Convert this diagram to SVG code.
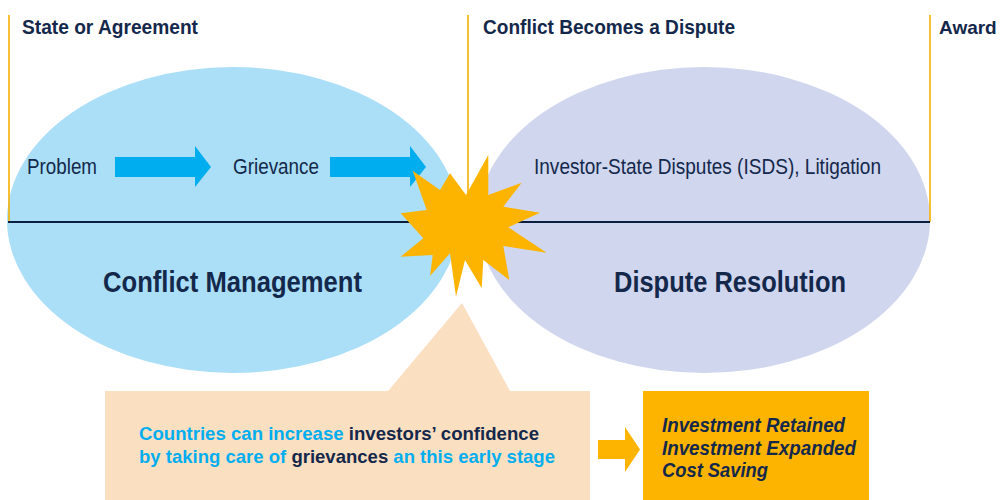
<svg xmlns="http://www.w3.org/2000/svg" width="1000" height="500" viewBox="0 0 1000 500">
  <style>
    .hdr { font-family: "Liberation Sans", Arial, sans-serif; font-weight: bold; font-size: 21px; fill: #14284b; }
    .step { font-family: "Liberation Sans", Arial, sans-serif; font-size: 22px; fill: #14284b; }
    .phase { font-family: "Liberation Sans", Arial, sans-serif; font-weight: bold; font-size: 29px; fill: #14284b; }
    .note { font-family: "Liberation Sans", Arial, sans-serif; font-weight: bold; font-size: 19px; fill: #00aeef; }
    .dark { fill: #14284b; }
    .out { font-family: "Liberation Sans", Arial, sans-serif; font-weight: bold; font-style: italic; font-size: 20px; fill: #14284b; }
    .divider { stroke: #f5b000; stroke-width: 1.6; fill: none; }
    .flow { fill: #00aeef; }
  </style>

  <!-- phase ellipses -->
  <g id="conflict-management">
    <ellipse cx="233" cy="220" rx="226" ry="153" fill="#aadff7"/>
    <text class="phase" x="103" y="292" textLength="259" lengthAdjust="spacingAndGlyphs">Conflict Management</text>
  </g>
  <g id="dispute-resolution">
    <ellipse cx="704" cy="220" rx="226" ry="153" fill="#cfd6ee"/>
    <text class="phase" x="614" y="292" textLength="232" lengthAdjust="spacingAndGlyphs">Dispute Resolution</text>
  </g>

  <!-- stage dividers and timeline -->
  <g id="timeline">
    <line class="divider" x1="9" y1="15" x2="9" y2="222"/>
    <line class="divider" x1="468" y1="15" x2="468" y2="200"/>
    <line class="divider" x1="930" y1="15" x2="930" y2="222"/>
    <line x1="8" y1="222" x2="930" y2="222" stroke="#0a1f3f" stroke-width="2"/>
    <text class="hdr" x="22" y="34" textLength="176" lengthAdjust="spacingAndGlyphs">State or Agreement</text>
    <text class="hdr" x="483" y="34" textLength="252" lengthAdjust="spacingAndGlyphs">Conflict Becomes a Dispute</text>
    <text class="hdr" x="939" y="34" style="font-size:19px">Award</text>
  </g>

  <g id="problem">
    <text class="step" x="27" y="174" textLength="70" lengthAdjust="spacingAndGlyphs">Problem</text>
  </g>
  <g id="grievance">
    <text class="step" x="233" y="174" textLength="86" lengthAdjust="spacingAndGlyphs">Grievance</text>
  </g>
  <g id="isds">
    <text class="step" x="534" y="174" textLength="347" lengthAdjust="spacingAndGlyphs">Investor-State Disputes (ISDS), Litigation</text>
  </g>

  <!-- block arrows -->
  <g id="connectors">
    <polygon class="flow" points="115,157 195,157 195,146 211,167 195,187 195,177 115,177"/>
    <polygon class="flow" points="330,157 410,157 410,146 426,167 410,187 410,177 330,177"/>
    <polygon fill="#fdb400" points="598,440 625,440 625,427 640,449.5 625,472 625,459 598,459"/>
  </g>

  <!-- conflict flash -->
  <g id="flash">
    <polygon fill="#fdb400" points="400.7,213.3 426.7,210 412.7,170.7 440,190 450,173.3 466,195 488.3,155 488.3,195 521.7,182.7 503.3,206.7 540,212.7 508.3,227.3 546.7,252.7 503.3,246 509.3,280 483.3,260 481.7,288.3 465,260 456,296.7 450,253.3 430,276 432.7,255 400.7,256.7 423.3,238.3"/>
  </g>

  <!-- callout -->
  <g id="callout">
    <polygon fill="#fbdfc1" points="105,391 388,391 462,303 510,391 590,391 590,500 105,500"/>
    <text class="note" x="139" y="440" textLength="400" lengthAdjust="spacingAndGlyphs">Countries can increase <tspan class="dark">investors’ confidence</tspan></text>
    <text class="note" x="139" y="463" textLength="416" lengthAdjust="spacingAndGlyphs">by taking care of <tspan class="dark">grievances</tspan> an this early stage</text>
  </g>

  <!-- outcomes -->
  <g id="outcomes">
    <rect x="643" y="391" width="226" height="109" fill="#fdb400"/>
    <text class="out" x="662" y="432" textLength="183" lengthAdjust="spacingAndGlyphs">Investment Retained</text>
    <text class="out" x="662" y="455" textLength="194" lengthAdjust="spacingAndGlyphs">Investment Expanded</text>
    <text class="out" x="662" y="477" textLength="106" lengthAdjust="spacingAndGlyphs">Cost Saving</text>
  </g>
</svg>
